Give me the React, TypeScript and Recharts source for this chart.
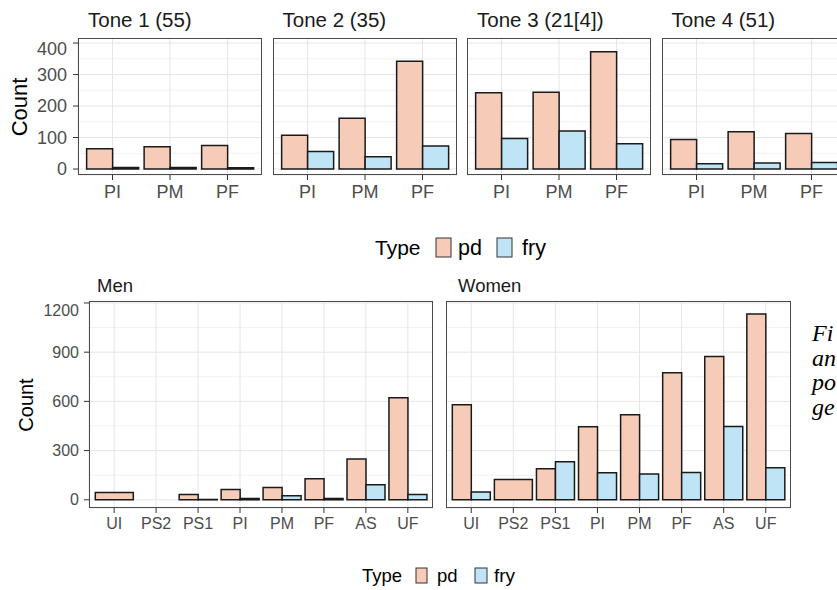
import { BarChart, Bar, XAxis, YAxis, CartesianGrid } from 'recharts';

// tone panels (top row)
const toneCats = ['PI', 'PM', 'PF'];
const toneTitles = ['Tone 1 (55)', 'Tone 2 (35)', 'Tone 3 (21[4])', 'Tone 4 (51)'];
const tone1Pd = [64, 71, 75];
const tone1Fry = [5, 5, 4];
const tone2Pd = [107, 161, 342];
const tone2Fry = [56, 39, 73];
const tone3Pd = [242, 244, 372];
const tone3Fry = [97, 121, 80];
const tone4Pd = [94, 118, 113];
const tone4Fry = [17, 19, 21];
const toneTicks = [0, 100, 200, 300, 400];
const toneMinor = [50, 150, 250, 350];

// gender panels (bottom row)
const genderCats = ['UI', 'PS2', 'PS1', 'PI', 'PM', 'PF', 'AS', 'UF'];
const menPd = [45, null, 33, 63, 75, 128, 248, 622];
const menFry = [null, null, 2, 8, 24, 8, 92, 33];
const womenPd = [580, 124, 189, 445, 519, 775, 873, 1133];
const womenFry = [47, null, 232, 165, 157, 167, 447, 195];
const genderTicks = [0, 300, 600, 900, 1200];
const genderMinor = [150, 450, 750, 1050];

// caption fragments cut by the page edge
const captionLines = ['Fi', 'an', 'po', 'ge'];

const PD = '#F6CBB8';
const FRY = '#BFE4F6';
const EDGE = '#1a1a1a';

type Row = { cat: string; pd?: number; fry?: number; solo?: number };

// ggplot dodge: a category with only one type gets the full width
function buildRows(cats: string[], pd: (number | null)[], fry: (number | null)[]): Row[] {
  return cats.map((cat, i) => {
    const a = pd[i];
    const b = fry[i];
    if (a != null && b != null) return { cat, pd: a, fry: b };
    if (a != null) return { cat, solo: a };
    return { cat };
  });
}

interface PanelProps {
  x: number;
  y: number;
  w: number;
  h: number;
  rows: Row[];
  domain: [number, number];
  ticks: number[];
  minor: number[];
  showY: boolean;
  fs: number;
  yw: number;
  yMargin: number;
}

function Panel({ x, y, w, h, rows, domain, ticks, minor, showY, fs, yw, yMargin }: PanelProps) {
  const n = rows.length;
  const unit = w / (n + 0.2);
  const pad = unit * 0.1;
  const YW = showY ? yw : 0;
  return (
    <div style={{ position: 'absolute', left: x - YW, top: y }}>
      <BarChart
        width={w + YW}
        height={h + 40}
        data={rows}
        margin={{ top: 0, right: 0, bottom: 0, left: 0 }}
        barCategoryGap="5%"
        barGap={0}
      >
        <CartesianGrid xAxisId="main" yAxisId="main" horizontalValues={minor} vertical={false} stroke="#F2F2F2" />
        <CartesianGrid xAxisId="main" yAxisId="main" stroke="#E6E6E6" />
        <XAxis
          xAxisId="main"
          dataKey="cat"
          padding={{ left: pad, right: pad }}
          height={40}
          axisLine={false}
          tickLine={{ stroke: '#333' }}
          tickSize={5}
          tickMargin={5}
          interval={0}
          tick={{ fill: '#4D4D4D', fontSize: fs }}
        />
        <XAxis xAxisId="solo" dataKey="cat" padding={{ left: pad, right: pad }} hide />
        <YAxis
          yAxisId="main"
          type="number"
          domain={domain}
          ticks={ticks}
          allowDataOverflow
          hide={!showY}
          width={YW}
          axisLine={false}
          tickLine={{ stroke: '#333' }}
          tickSize={5}
          tickMargin={yMargin}
          tick={{ fill: '#4D4D4D', fontSize: fs }}
        />
        <YAxis yAxisId="solo" type="number" domain={domain} allowDataOverflow hide />
        <Bar xAxisId="main" yAxisId="main" dataKey="pd" fill={PD} stroke={EDGE} strokeWidth={1.5} isAnimationActive={false} />
        <Bar xAxisId="main" yAxisId="main" dataKey="fry" fill={FRY} stroke={EDGE} strokeWidth={1.5} isAnimationActive={false} />
        <Bar xAxisId="solo" yAxisId="solo" dataKey="solo" fill={PD} stroke={EDGE} strokeWidth={1.5} isAnimationActive={false} />
      </BarChart>
      <div
        style={{
          position: 'absolute',
          left: YW,
          top: 0,
          width: w,
          height: h,
          border: '1px solid #4a4a4a',
          boxSizing: 'border-box',
          pointerEvents: 'none',
        }}
      />
    </div>
  );
}

export default function App() {
  const toneRows = [
    buildRows(toneCats, tone1Pd, tone1Fry),
    buildRows(toneCats, tone2Pd, tone2Fry),
    buildRows(toneCats, tone3Pd, tone3Fry),
    buildRows(toneCats, tone4Pd, tone4Fry),
  ];
  const toneLefts = [78, 272.5, 467, 661.5];
  const menRows = buildRows(genderCats, menPd, menFry);
  const womenRows = buildRows(genderCats, womenPd, womenFry);

  return (
    <div
      style={{
        position: 'absolute',
        left: 0,
        top: 0,
        width: 837,
        height: 590,
        overflow: 'hidden',
        background: '#fff',
        fontFamily: '"Liberation Sans", Arial, sans-serif',
      }}
    >
      {toneRows.map((rows, i) => (
        <Panel
          key={i}
          x={toneLefts[i]}
          y={38}
          w={184}
          h={137}
          rows={rows}
          domain={[-19, 416]}
          ticks={toneTicks}
          minor={toneMinor}
          showY={i === 0}
          fs={18}
          yw={50}
          yMargin={6}
        />
      ))}
      <Panel x={89} y={301} w={344} h={207} rows={menRows} domain={[-50, 1212]} ticks={genderTicks} minor={genderMinor} showY fs={16} yw={60} yMargin={5} />
      <Panel x={446} y={301} w={345} h={207} rows={womenRows} domain={[-50, 1212]} ticks={genderTicks} minor={genderMinor} showY={false} fs={16} yw={60} yMargin={5} />

      <svg width={837} height={590} style={{ position: 'absolute', left: 0, top: 0, pointerEvents: 'none' }}>
        {toneTitles.map((t, i) => (
          <text key={t} x={toneLefts[i] + 10} y={27} fontSize={20.5} fill="#1a1a1a">
            {t}
          </text>
        ))}
        <text x={97} y={292} fontSize={18.5} fill="#1a1a1a">Men</text>
        <text x={458} y={292} fontSize={18.5} fill="#1a1a1a">Women</text>

        <text x={19} y={107} fontSize={22} fill="#000" textAnchor="middle" dominantBaseline="central" transform="rotate(-90 19 107)">
          Count
        </text>
        <text x={26} y={405} fontSize={20} fill="#000" textAnchor="middle" dominantBaseline="central" transform="rotate(-90 26 405)">
          Count
        </text>

        {/* top legend */}
        <text x={375} y={255} fontSize={21} fill="#000">Type</text>
        <rect x={436} y={238} width={15} height={19} fill={PD} stroke="#333" strokeWidth={1} />
        <text x={458} y={255} fontSize={21.5} fill="#000">pd</text>
        <rect x={497} y={238} width={15} height={19} fill={FRY} stroke="#333" strokeWidth={1} />
        <text x={522} y={255} fontSize={21.5} fill="#000">fry</text>

        {/* bottom legend */}
        <text x={362} y={582} fontSize={18.5} fill="#000">Type</text>
        <rect x={416} y={568} width={11} height={15} fill={PD} stroke="#333" strokeWidth={1} />
        <text x={437} y={582} fontSize={18.5} fill="#000">pd</text>
        <rect x={475} y={568} width={12} height={15} fill={FRY} stroke="#333" strokeWidth={1} />
        <text x={494} y={582} fontSize={19} fill="#000">fry</text>

        {/* caption bleeding in from the page */}
        <g fontFamily='"Liberation Serif", "Times New Roman", serif' fontStyle="italic" fontSize={24} fill="#000">
          {captionLines.map((t, i) => (
            <text key={t} x={812} y={341 + i * 24.5}>
              {t}
            </text>
          ))}
        </g>
      </svg>
    </div>
  );
}
